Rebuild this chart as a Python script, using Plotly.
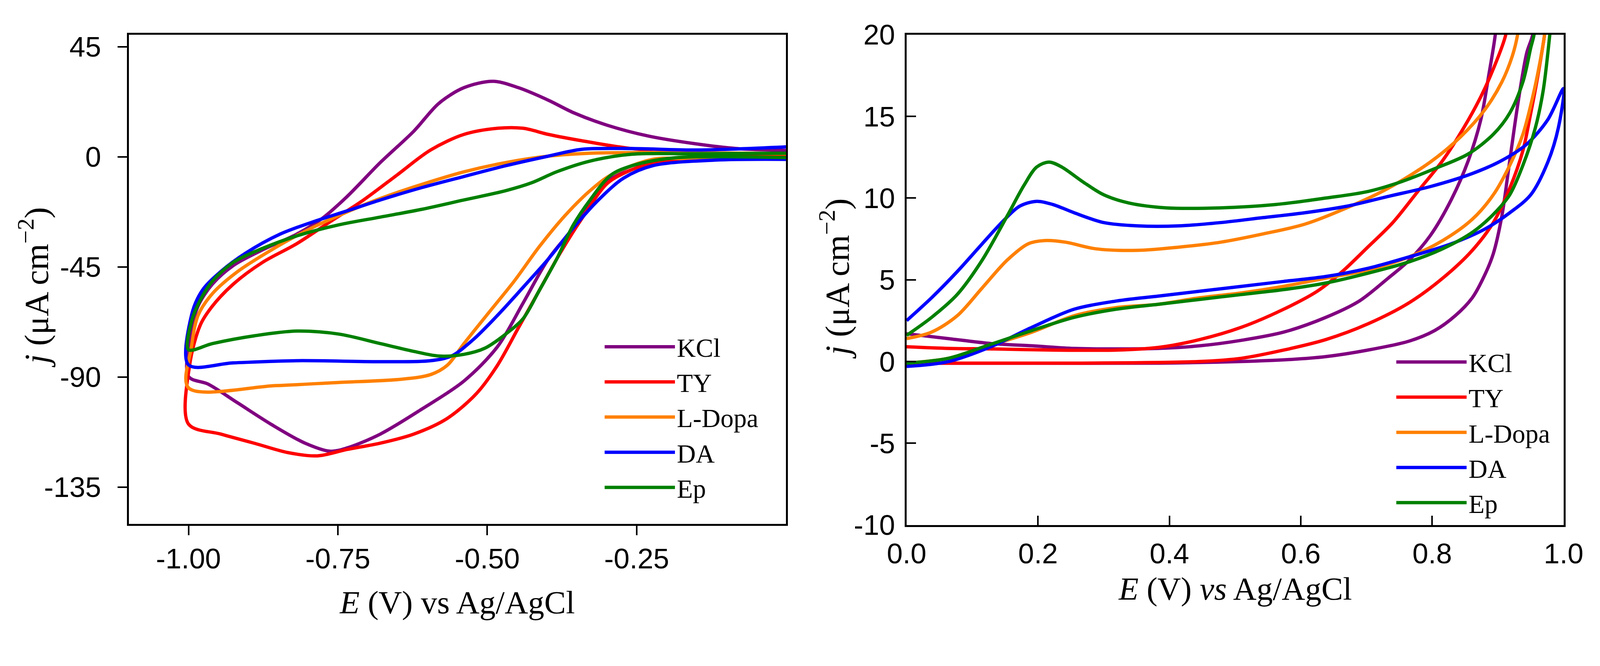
import plotly.graph_objects as go

# ---- left panel: cathodic window, loops start at 0 V, go to -1 V and back ----
kcl_l_e = [0, -0.15, -0.23, -0.258, -0.293, -0.328, -0.356, -0.398, -0.44, -0.483, -0.539, -0.609, -0.679,
           -0.735, -0.763, -0.805, -0.861, -0.918, -0.967, -1.0,
           -0.995, -0.984, -0.96, -0.925, -0.876, -0.819, -0.777, -0.735, -0.679, -0.623, -0.581, -0.539,
           -0.49, -0.448, -0.398, -0.356, -0.3, -0.23, -0.153, -0.083, 0]
kcl_l_j = [0.3, -0.8, -2.5, -3.6, -8.7, -18.9, -29, -41.8, -59.7, -77.6, -91.6, -103, -113.3,
           -119, -120.3, -117, -109.4, -100.5, -92.9, -89.7,
           -71, -61, -52, -44.4, -38, -31.6, -25.3, -16.3, -2.3, 10.5, 21.9, 28.3,
           30.9, 28.3, 23.2, 18.1, 13, 8.5, 5.4, 3.4, 2.6]

ty_l_e = [0, -0.15, -0.23, -0.27, -0.3, -0.342, -0.378, -0.413, -0.448, -0.483, -0.518, -0.567, -0.623,
          -0.679, -0.735, -0.784, -0.833, -0.889, -0.946, -1.0,
          -0.998, -0.98, -0.96, -0.925, -0.876, -0.819, -0.763, -0.707, -0.651, -0.595, -0.539,
          -0.483, -0.44, -0.398, -0.342, -0.258, -0.153, 0]
ty_l_j = [0.2, -1, -3, -6.5, -11, -25.3, -39.3, -54.6, -69.9, -85.2, -96.7, -106.9, -113.3,
          -117, -119.6, -122.2, -120.9, -117.1, -113.3, -109.2,
          -85, -68.6, -61, -52, -43.1, -35.5, -26.5, -17.6, -7.4, 2.8, 9.2,
          11.7, 11.7, 9.2, 6.6, 3.4, 1.8, 0.9]

ldopa_l_e = [0, -0.15, -0.223, -0.293, -0.328, -0.37, -0.413, -0.455, -0.497, -0.539, -0.567, -0.595,
             -0.644, -0.749, -0.854, -1.0,
             -0.995, -0.984, -0.96, -0.918, -0.861, -0.805, -0.749, -0.679, -0.609, -0.539, -0.469,
             -0.398, -0.328, -0.223, 0]
ldopa_l_j = [-0.8, -0.9, -1, -7.4, -13.8, -24, -36.7, -50.8, -63.5, -76.3, -85.2, -89,
             -90.9, -92.2, -93.5, -94.4,
             -77.6, -64.8, -55.9, -46.9, -38, -30.4, -24, -17, -11.2, -6.1, -2.3,
             0.3, 1.5, 1.8, 1.3]

da_l_e = [0, -0.118, -0.223, -0.272, -0.314, -0.356, -0.398, -0.44, -0.483, -0.525, -0.56, -0.595,
          -0.679, -0.819, -0.925, -1.0,
          -0.995, -0.977, -0.946, -0.904, -0.847, -0.791, -0.735, -0.679, -0.609, -0.539, -0.469,
          -0.398, -0.342, -0.258, -0.153, 0]
da_l_j = [-1, -1.3, -3.6, -8.7, -17.6, -29, -41.8, -53.3, -64.8, -75, -81.4, -83.3,
          -83.7, -83.3, -84.2, -85,
          -64.8, -54.6, -46.9, -39.3, -31.6, -26.5, -22.1, -17.6, -12.5, -8, -3.6,
          0.3, 3.1, 3.4, 2.8, 4.1]

ep_l_e = [0, -0.188, -0.258, -0.293, -0.328, -0.356, -0.384, -0.413, -0.44, -0.469, -0.504, -0.539,
          -0.581, -0.623, -0.679, -0.749, -0.819, -0.889, -0.96, -1.0,
          -0.995, -0.98, -0.96, -0.925, -0.876, -0.819, -0.749, -0.679, -0.609, -0.539, -0.469,
          -0.426, -0.384, -0.328, -0.258, -0.153, 0]
ep_l_j = [-0.3, -0.4, -3.6, -7.4, -17.6, -27.8, -41.8, -54.6, -66.1, -72.4, -78.2, -80.7,
          -81.4, -79.5, -76.3, -72.4, -71.2, -73.1, -76.3, -78.8,
          -67.3, -58.4, -50.8, -43.1, -37.4, -32.3, -27.8, -24.6, -21.4, -17.6, -13.8,
          -10.6, -6.1, -1.7, 1.1, 1.3, 1.5]

# ---- right panel: anodic window, lower branch 0 -> 1 V, upper branch back to 0 ----
kcl_r_e = [0, 0.191, 0.383, 0.51, 0.574, 0.638, 0.702, 0.765, 0.804, 0.835, 0.861, 0.88, 0.893, 0.906,
           0.915, 0.925, 0.934, 0.944, 0.953, 0.958,
           0.9, 0.896, 0.886, 0.874, 0.855, 0.829, 0.797, 0.765, 0.733, 0.689, 0.638, 0.574, 0.51,
           0.446, 0.383, 0.319, 0.255, 0.191, 0.128, 0.064, 0]
kcl_r_j = [-0.1, -0.1, -0.1, 0, 0.1, 0.3, 0.7, 1.25, 1.9, 2.8, 3.9, 5.3, 6.6, 8.9,
           11.4, 14.3, 16.7, 18.9, 20, 22,
           22, 20, 17.5, 14.8, 12.3, 9.9, 7.7, 6.2, 5.1, 3.7, 2.7, 1.8, 1.3,
           0.96, 0.8, 0.77, 0.8, 0.96, 1.1, 1.4, 1.7]

ty_r_e = [0, 0.255, 0.446, 0.51, 0.574, 0.638, 0.702, 0.765, 0.816, 0.861, 0.893, 0.918, 0.938, 0.95,
          0.96, 0.968, 0.971, 0.975,
          0.918, 0.912, 0.893, 0.874, 0.848, 0.816, 0.778, 0.74, 0.702, 0.663, 0.625, 0.574, 0.51,
          0.446, 0.383, 0.319, 0.223, 0.128, 0.064, 0]
ty_r_j = [-0.1, -0.1, 0, 0.2, 0.7, 1.34, 2.3, 3.6, 5.1, 6.8, 8.5, 10.6, 12.9, 15.2,
          17.3, 19.2, 20, 22,
          22, 20, 17.9, 16.2, 14.3, 12.3, 10.4, 8.5, 7, 5.5, 4.3, 3.2, 2.1,
          1.34, 0.86, 0.7, 0.7, 0.77, 0.8, 0.9]

ldopa_r_e = [0, 0.064, 0.128, 0.191, 0.255, 0.319, 0.383, 0.446, 0.51, 0.574, 0.638, 0.702, 0.765, 0.816,
             0.861, 0.893, 0.918, 0.938, 0.953, 0.963, 0.971, 0.976,
             0.936, 0.93, 0.922, 0.906, 0.88, 0.842, 0.797, 0.733, 0.67, 0.606, 0.542, 0.478, 0.415,
             0.351, 0.287, 0.242, 0.21, 0.185, 0.153, 0.115, 0.077, 0.038, 0]
ldopa_r_j = [-0.1, 0.2, 1, 1.8, 2.8, 3.3, 3.5, 3.9, 4.2, 4.6, 5.1, 5.6, 6.4, 7.4,
             8.7, 10.2, 12, 13.9, 16.2, 18.1, 20, 22,
             22, 20, 18.7, 17.1, 15.4, 13.7, 12.2, 10.6, 9.4, 8.4, 7.8, 7.3, 7,
             6.8, 6.9, 7.3, 7.4, 7.2, 6.2, 4.5, 2.8, 1.8, 1.4]

da_r_e = [0, 0.064, 0.128, 0.191, 0.255, 0.319, 0.383, 0.446, 0.51, 0.574, 0.638, 0.702, 0.765, 0.829,
          0.88, 0.918, 0.95, 0.976, 0.992, 1.0,
          0.976, 0.944, 0.906, 0.861, 0.797, 0.733, 0.67, 0.606, 0.542, 0.478, 0.415, 0.351, 0.3,
          0.255, 0.223, 0.198, 0.172, 0.147, 0.115, 0.077, 0.038, 0]
da_r_j = [-0.3, 0, 0.9, 2.1, 3.2, 3.7, 4, 4.3, 4.6, 4.9, 5.2, 5.7, 6.4, 7.2,
          8.1, 9.1, 10.2, 12.2, 14.3, 16.7,
          14.8, 13.3, 12.3, 11.5, 10.7, 10.1, 9.5, 9.1, 8.8, 8.5, 8.3, 8.3, 8.5,
          9.1, 9.6, 9.8, 9.5, 8.6, 7.2, 5.5, 3.9, 2.5]

ep_r_e = [0, 0.064, 0.128, 0.191, 0.255, 0.319, 0.383, 0.446, 0.51, 0.574, 0.638, 0.702, 0.765, 0.816,
          0.861, 0.893, 0.918, 0.938, 0.957, 0.969, 0.979, 0.984,
          0.96, 0.955, 0.95, 0.938, 0.918, 0.893, 0.855, 0.804, 0.753, 0.702, 0.638, 0.561, 0.478,
          0.395, 0.338, 0.3, 0.268, 0.236, 0.217, 0.198, 0.179, 0.153, 0.115, 0.077, 0.038, 0]
ep_r_j = [-0.1, 0.2, 1.05, 1.9, 2.7, 3.2, 3.5, 3.8, 4.1, 4.4, 4.8, 5.4, 6.1, 6.9,
          7.9, 9, 10.2, 12, 14.3, 16.6, 20, 22,
          22, 20, 19.2, 17.1, 15.2, 13.9, 12.7, 11.8, 11, 10.4, 10, 9.6, 9.4,
          9.4, 9.7, 10.2, 11, 11.9, 12.2, 11.9, 10.8, 8.9, 6.2, 4.1, 2.7, 1.6]

names = ["KCl", "TY", "L-Dopa", "DA", "Ep"]
colors = ["#800080", "#ff0000", "#ff8000", "#0000ff", "#008000"]

left_e = [kcl_l_e, ty_l_e, ldopa_l_e, da_l_e, ep_l_e]
left_j = [kcl_l_j, ty_l_j, ldopa_l_j, da_l_j, ep_l_j]
right_e = [kcl_r_e, ty_r_e, ldopa_r_e, da_r_e, ep_r_e]
right_j = [kcl_r_j, ty_r_j, ldopa_r_j, da_r_j, ep_r_j]

left_xticks = [-1.0, -0.75, -0.5, -0.25]
left_xtext = ["-1.00", "-0.75", "-0.50", "-0.25"]
left_yticks = [-135, -90, -45, 0, 45]
left_ytext = ["-135", "-90", "-45", "0", "45"]
right_xticks = [0, 0.2, 0.4, 0.6, 0.8, 1.0]
right_xtext = ["0.0", "0.2", "0.4", "0.6", "0.8", "1.0"]
right_yticks = [-10, -5, 0, 5, 10, 15, 20]
right_ytext = ["-10", "-5", "0", "5", "10", "15", "20"]

# the page comes out ~5% larger than its css size, so lay out in css px
S = 1.05
W, H = round(4292 / S), round(1706 / S)
OFF = 8  # page body margin


def px(x):
    return (x / S - OFF) / W


def py(y):
    return 1 - (y / S - OFF) / H


tick_font = dict(family="Liberation Sans, Arial, sans-serif", size=73, color="black")
serif = "Liberation Serif, Times New Roman, serif"

fig = go.Figure()

for e, j, name, col in zip(left_e, left_j, names, colors):
    fig.add_trace(go.Scatter(x=e, y=j, mode="lines", name=name,
                             line=dict(color=col, width=8.5, shape="spline", smoothing=0.9),
                             xaxis="x", yaxis="y", legend="legend"))

for e, j, name, col in zip(right_e, right_j, names, colors):
    fig.add_trace(go.Scatter(x=e, y=j, mode="lines", name=name,
                             line=dict(color=col, width=8.5, shape="spline", smoothing=0.9),
                             xaxis="x2", yaxis="y2", legend="legend2"))

frame = dict(showline=True, linewidth=5, linecolor="black", mirror=True,
             showgrid=False, zeroline=False, tickfont=tick_font,
             tickcolor="black", tickwidth=4, ticklen=24, automargin=False)
legend_style = dict(xanchor="left", yanchor="top",
                    font=dict(family=serif, size=67, color="black"),
                    bgcolor="rgba(0,0,0,0)", itemwidth=180, tracegroupgap=0)

fig.update_layout(
    width=W, height=H,
    margin=dict(l=0, r=0, t=0, b=0, autoexpand=False),
    paper_bgcolor="white", plot_bgcolor="white",
    xaxis=dict(frame, domain=[px(346), px(2113)], range=[-1.1, 0.0], anchor="y",
               tickmode="array", tickvals=left_xticks, ticktext=left_xtext, ticks="outside",
               ticklabelstandoff=-3),
    yaxis=dict(frame, domain=[py(1409), py(93)], range=[-150, 50], anchor="x",
               tickmode="array", tickvals=left_yticks, ticktext=left_ytext, ticks="outside",
               ticklabelstandoff=27),
    xaxis2=dict(frame, domain=[px(2437), px(4203)], range=[0, 1], anchor="y2",
                tickmode="array", tickvals=right_xticks, ticktext=right_xtext, ticks="inside",
                ticklabelstandoff=6),
    yaxis2=dict(frame, domain=[py(1412), py(93)], range=[-10, 20], anchor="x2",
                tickmode="array", tickvals=right_yticks, ticktext=right_ytext, ticks="inside",
                ticklabelstandoff=10),
    legend=dict(legend_style, x=px(1620), y=py(880)),
    legend2=dict(legend_style, x=px(3748), y=py(921)),
)

title_font = dict(family=serif, size=83, color="black")
ytitle_font = dict(family=serif, size=87, color="black")
ytitle = "<i>j</i> (μA cm<sup>−2</sup>)"
fig.add_annotation(text="<i>E</i> (V) vs Ag/AgCl", x=px(1229), y=py(1620),
                   xref="paper", yref="paper", showarrow=False, font=title_font,
                   xanchor="center", yanchor="middle")
fig.add_annotation(text="<i>E</i> (V) <i>vs</i> Ag/AgCl", x=px(3320), y=py(1583),
                   xref="paper", yref="paper", showarrow=False, font=title_font,
                   xanchor="center", yanchor="middle")
fig.add_annotation(text=ytitle, x=px(92), y=py(773), textangle=-90,
                   xref="paper", yref="paper", showarrow=False, font=ytitle_font,
                   xanchor="center", yanchor="middle")
fig.add_annotation(text=ytitle, x=px(2245), y=py(750), textangle=-90,
                   xref="paper", yref="paper", showarrow=False, font=ytitle_font,
                   xanchor="center", yanchor="middle")

fig.write_html("out.html")
